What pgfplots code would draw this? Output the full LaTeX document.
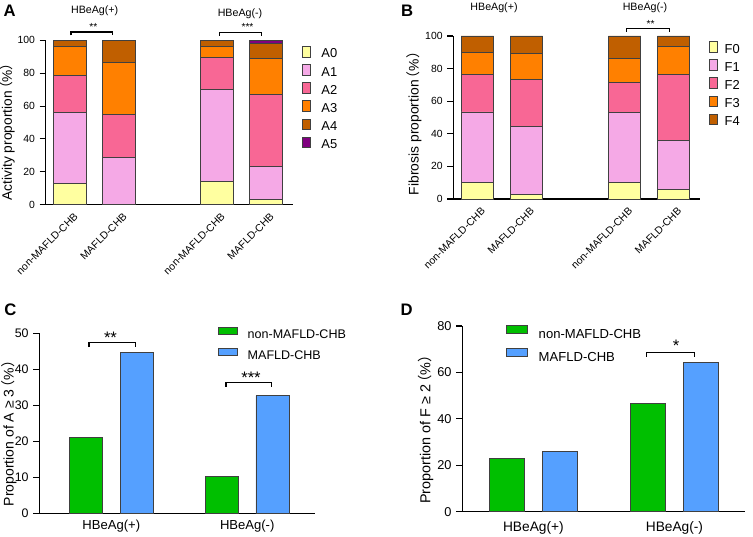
\documentclass[border=0pt]{standalone}
\usepackage{pgfplots}
\pgfplotsset{compat=1.18}
\usepackage{fontspec}
\setmainfont{Liberation Sans}
\newfontfamily\cjk{Noto Sans CJK SC}
\definecolor{cA0}{HTML}{FFFFA0}
\definecolor{cA1}{HTML}{F5A9E6}
\definecolor{cA2}{HTML}{F86795}
\definecolor{cA3}{HTML}{FF8000}
\definecolor{cA4}{HTML}{C05F00}
\definecolor{cA5}{HTML}{800080}
\definecolor{cG}{HTML}{00BF00}
\definecolor{cB}{HTML}{55A0FF}
\definecolor{edge}{HTML}{404040}
\newcommand{\fs}[1]{\fontsize{#1}{#1}\selectfont}
\newcommand{\pct}{\hspace{-0.35em}{\cjk （}\%{\cjk ）}\hspace{-0.5em}}
\pgfplotsset{
  panel/.style={scale only axis, axis x line=bottom, axis y line=left,
    axis line style={-, line width=1pt, black}, tick align=outside,
    ytick style={line width=0.8pt, black}, major tick length=4.5pt,
    xtick style={draw=none}, ymin=0, clip=false,
    /pgf/number format/assume math mode=true,
    legend cell align=left},
  stackbox/.style={legend image code/.code={\draw[##1, draw=edge, line width=0.6pt] (0pt,0.6pt) rectangle (13.3pt,6.6pt);}},
}
\begin{document}
\begin{tikzpicture}
\path[use as bounding box] (0,0) rectangle (564.75pt,402pt);
% ---------------- Panel A ----------------
\begin{axis}[panel, stackbox, at={(34.28pt,248.48pt)}, anchor=south west,
  width=185.5pt, height=123.3pt, xmin=-0.496, xmax=4.55, ymax=100,
  ytick={0,20,...,100}, ybar stacked, bar width=0.68,
  xtick={0,1,3,4}, xticklabels={non-MAFLD-CHB,MAFLD-CHB,non-MAFLD-CHB,MAFLD-CHB},
  xticklabel style={xshift=2.5pt, yshift=-1pt, rotate=45, anchor=north east, inner sep=0pt, font=\fs{7.8}},
  yticklabel style={font=\fs{7.8}},
  legend style={draw=none, fill=none, at={(1.035,0.967)}, anchor=north west, inner sep=0pt,
    row sep=3.2pt, font=\fs{9.7}, nodes={inner sep=0pt}, /tikz/every odd column/.style={column sep=8pt}}]
\addplot[fill=cA0, draw=edge, line width=0.6pt] coordinates {(0,13.0) (1,0) (3,14.2) (4,3.0)};
\addplot[fill=cA1, draw=edge, line width=0.6pt] coordinates {(0,43.2) (1,28.8) (3,56.0) (4,20.3)};
\addplot[fill=cA2, draw=edge, line width=0.6pt] coordinates {(0,22.3) (1,26.2) (3,19.5) (4,43.6)};
\addplot[fill=cA3, draw=edge, line width=0.6pt] coordinates {(0,17.8) (1,31.6) (3,6.6) (4,22.1)};
\addplot[fill=cA4, draw=edge, line width=0.6pt] coordinates {(0,3.7) (1,13.4) (3,3.7) (4,9.2)};
\addplot[fill=cA5, draw=edge, line width=0.6pt] coordinates {(0,0) (1,0) (3,0) (4,1.8)};
\legend{A0,A1,A2,A3,A4,A5}
\end{axis}
% ---------------- Panel B ----------------
\begin{axis}[panel, stackbox, at={(339.98pt,252.75pt)}, anchor=south west,
  width=185.0pt, height=122.25pt, xmin=-0.489, xmax=4.536, ymax=100,
  ytick={0,20,...,100}, ybar stacked, bar width=0.66,
  xtick={0,1,3,4}, xticklabels={non-MAFLD-CHB,MAFLD-CHB,non-MAFLD-CHB,MAFLD-CHB},
  xticklabel style={xshift=2.5pt, yshift=-1pt, rotate=45, anchor=north east, inner sep=0pt, font=\fs{7.8}},
  yticklabel style={font=\fs{7.8}},
  legend style={draw=none, fill=none, at={(1.0365,0.969)}, anchor=north west, inner sep=0pt,
    row sep=3.15pt, font=\fs{9.7}, nodes={inner sep=0pt}, /tikz/every odd column/.style={column sep=5pt}}]
\addplot[fill=cA0, draw=edge, line width=0.6pt] coordinates {(0,10.4) (1,2.7) (3,10.0) (4,6.1)};
\addplot[fill=cA1, draw=edge, line width=0.6pt] coordinates {(0,43.0) (1,41.7) (3,43.2) (4,29.9)};
\addplot[fill=cA2, draw=edge, line width=0.6pt] coordinates {(0,23.1) (1,28.8) (3,18.4) (4,40.3)};
\addplot[fill=cA3, draw=edge, line width=0.6pt] coordinates {(0,13.5) (1,16.0) (3,14.5) (4,17.2)};
\addplot[fill=cA4, draw=edge, line width=0.6pt] coordinates {(0,10.0) (1,10.8) (3,13.9) (4,6.5)};
\legend{F0,F1,F2,F3,F4}
\end{axis}
% ---------------- Panel C ----------------
\begin{axis}[panel, at={(29.48pt,16.73pt)}, anchor=south west,
  width=206.8pt, height=135.3pt, xmin=-0.53, xmax=1.499, ymax=50,
  ytick={0,10,...,50}, ybar, bar width=0.245,
  xtick={0,1}, xticklabels={HBeAg(+),HBeAg(-)},
  xticklabel style={inner sep=0pt, yshift=0pt, font=\fs{9.8}},
  yticklabel style={font=\fs{9.3}},
  legend image code/.code={\draw[#1, draw=edge, line width=0.6pt] (0pt,0.6pt) rectangle (14.5pt,6.1pt);},
  legend style={draw=none, fill=none, at={(0.6456,1.036)}, anchor=north west, inner sep=0pt,
    row sep=5.3pt, font=\fs{9.4}, nodes={inner sep=0pt}, /tikz/every odd column/.style={column sep=7.5pt}}]
\addplot[fill=cG, draw=edge, line width=0.6pt, bar shift=-0.1865] coordinates {(0,21.1) (1,10.3)};
\addplot[fill=cB, draw=edge, line width=0.6pt, bar shift=0.1865] coordinates {(0,44.6) (1,32.7)};
\legend{non-MAFLD-CHB,MAFLD-CHB}
\end{axis}
% ---------------- Panel D ----------------
\begin{axis}[panel, at={(346.73pt,18.23pt)}, anchor=south west,
  width=212.0pt, height=139.3pt, xmin=-0.504, xmax=1.5, ymax=80,
  ytick={0,20,...,80}, ybar, bar width=0.248,
  xtick={0,1}, xticklabels={HBeAg(+),HBeAg(-)},
  xticklabel style={inner sep=0pt, yshift=-2.6pt, font=\fs{10.3}},
  yticklabel style={font=\fs{9.6}},
  legend image code/.code={\draw[#1, draw=edge, line width=0.6pt] (0pt,0.6pt) rectangle (15.5pt,6.6pt);},
  legend style={draw=none, fill=none, at={(0.1546,1.005)}, anchor=north west, inner sep=0pt,
    row sep=6.2pt, font=\fs{9.8}, nodes={inner sep=0pt}, /tikz/every odd column/.style={column sep=8.25pt}}]
\addplot[fill=cG, draw=edge, line width=0.6pt, bar shift=-0.188] coordinates {(0,23.0) (1,46.5)};
\addplot[fill=cB, draw=edge, line width=0.6pt, bar shift=0.188] coordinates {(0,26.1) (1,64.1)};
\legend{non-MAFLD-CHB,MAFLD-CHB}
\end{axis}
% ---------------- annotations (image pixel coordinates) ----------------
\begin{scope}[shift={(0pt,402pt)}, x=0.75pt, y=-0.75pt]
\node[font=\bfseries\fs{12.5}] at (9.7,10.8) {A};
\node[font=\bfseries\fs{12.5}] at (407.2,11) {B};
\node[font=\bfseries\fs{12.5}] at (10.3,310) {C};
\node[font=\bfseries\fs{12.5}] at (406.7,310) {D};
\node[rotate=90, font=\fs{10.3}, inner sep=0pt] at (7.5,128.3) {Activity proportion\pct};
\node[rotate=90, font=\fs{10.4}, inner sep=0pt] at (414.2,120) {Fibrosis proportion\pct};
\node[rotate=90, font=\fs{10.5}, inner sep=0pt] at (9.2,430) {Proportion of A ≥ 3\pct};
\node[rotate=90, font=\fs{10.8}, inner sep=0pt] at (425.8,426) {Proportion of F ≥ 2\pct};
\node[font=\fs{8}, inner sep=0pt] at (94.7,10.5) {HBeAg(+)};
\node[font=\fs{8}, inner sep=0pt] at (240,14) {HBeAg(-)};
\node[font=\fs{8}, inner sep=0pt] at (494,8) {HBeAg(+)};
\node[font=\fs{8}, inner sep=0pt] at (645,8) {HBeAg(-)};
\draw[line width=0.9pt] (71,35.5) -- (71,32) -- (112.7,32) -- (112.7,35.5);
\draw[line width=0.9pt] (219.3,36) -- (219.3,32.5) -- (261.7,32.5) -- (261.7,36);
\draw[line width=0.9pt] (626.7,32) -- (626.7,28.3) -- (669.3,28.3) -- (669.3,32);
\draw[line width=0.9pt] (89,347) -- (89,342.7) -- (135.7,342.7) -- (135.7,347);
\draw[line width=0.9pt] (226,386.7) -- (226,382.7) -- (271.7,382.7) -- (271.7,386.7);
\draw[line width=0.9pt] (646.7,356.7) -- (646.7,352.7) -- (694.3,352.7) -- (694.3,356.7);
\node[font=\fs{7.7}, inner sep=0pt, anchor=base] at (93.3,30.2) {**};
\node[font=\fs{7.7}, inner sep=0pt, anchor=base] at (247.5,30.9) {***};
\node[font=\fs{7.7}, inner sep=0pt, anchor=base] at (650.7,27.6) {**};
\node[font=\fs{12.5}, inner sep=0pt, anchor=base] at (110.5,343.8) {**};
\node[font=\fs{12.5}, inner sep=0pt, anchor=base] at (251,383) {***};
\node[font=\fs{12.5}, inner sep=0pt, anchor=base] at (676,351.7) {*};
\end{scope}
\end{tikzpicture}
\end{document}
